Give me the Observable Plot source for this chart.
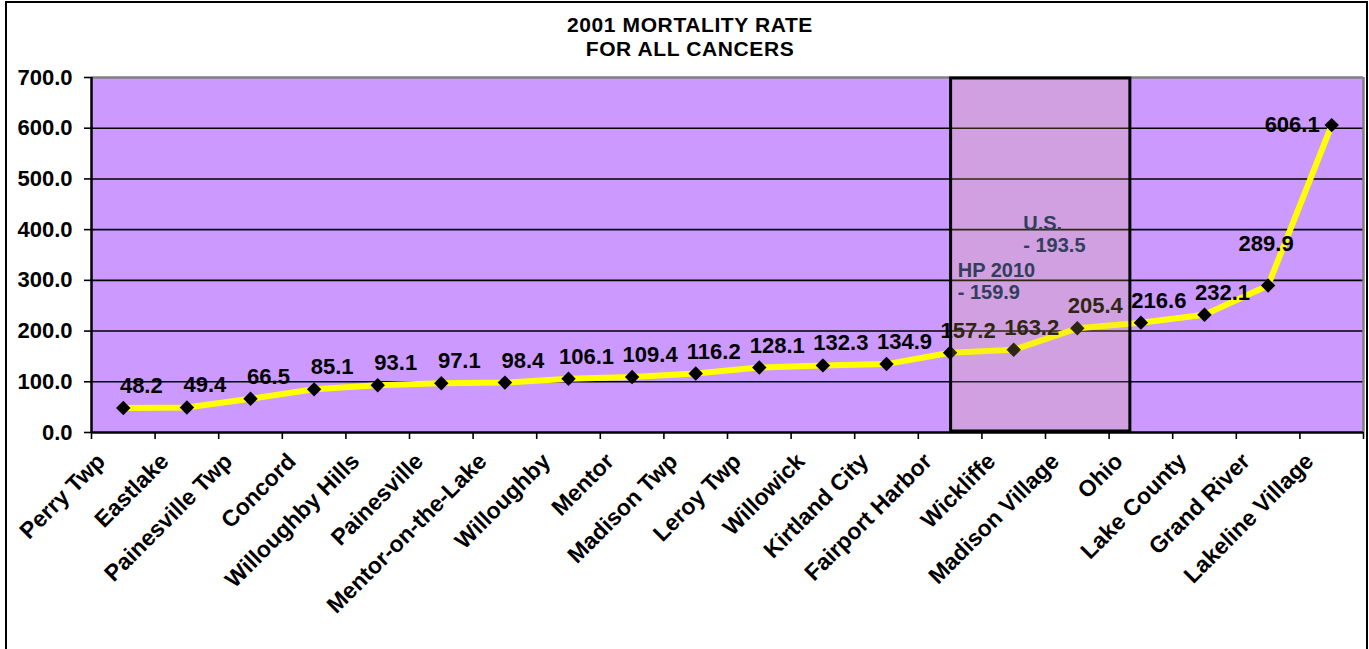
<!DOCTYPE html>
<html><head><meta charset="utf-8">
<script src="https://cdn.jsdelivr.net/npm/d3@7"></script>
<script src="https://cdn.jsdelivr.net/npm/@observablehq/plot@0.6"></script>
<style>
body{margin:0;background:#fff;font-family:"Liberation Sans",Arial,sans-serif;}
#wrap{position:relative;width:1369px;height:649px;overflow:hidden;background:#fff;}
#frame{position:absolute;left:5px;top:1px;width:1359px;height:700px;border:2px solid #000;pointer-events:none;}
#title{position:absolute;left:440px;width:500px;top:13px;text-align:center;font-weight:bold;font-size:21px;line-height:23.5px;letter-spacing:0.6px;color:#000;}
#chart{position:absolute;left:0;top:70px;}
</style></head>
<body><div id="wrap"><div id="title"></div><div id="chart"></div><div id="frame"></div></div>
<script>
const titleLines = ["2001 MORTALITY RATE", "FOR ALL CANCERS"];
const categories = ["Perry Twp","Eastlake","Painesville Twp","Concord","Willoughby Hills","Painesville","Mentor-on-the-Lake","Willoughby","Mentor","Madison Twp","Leroy Twp","Willowick","Kirtland City","Fairport Harbor","Wickliffe","Madison Village","Ohio","Lake County","Grand River","Lakeline Village"];
const rates = [48.2,49.4,66.5,85.1,93.1,97.1,98.4,106.1,109.4,116.2,128.1,132.3,134.9,157.2,163.2,205.4,216.6,232.1,289.9,606.1];
const yTicks = [0,100,200,300,400,500,600,700];
const benchmarkNames = ["U.S.", "HP 2010"];
const benchmarkValues = [193.5, 159.9];

document.getElementById("title").innerHTML = titleLines.join("<br>");

const idx = d3.range(categories.length);
const X = i => i + 0.5;
const Y = i => rates[i];
const fmt = v => v.toFixed(1);

const chart = Plot.plot({
  width: 1369, height: 579,
  marginTop: 7, marginBottom: 217, marginLeft: 91, marginRight: 6,
  x: {domain: [0, categories.length]},
  y: {domain: [0, 700]},
  style: {fontFamily: "'Liberation Sans', Arial, sans-serif", fontSize: "22px", fontWeight: "bold", color: "#000", background: "transparent", overflow: "visible"},
  marks: [
    Plot.frame({fill: "#CC99FF", stroke: null}),
    Plot.ruleY(yTicks.filter(d => d > 0 && d < 700), {stroke: "#000", strokeWidth: 1.6}),
    Plot.ruleY([700], {stroke: "#808080", strokeWidth: 2.5}),
    Plot.ruleX([categories.length], {stroke: "#808080", strokeWidth: 2.5}),
    Plot.line(idx, {x: X, y: Y, stroke: "#FFFF00", strokeWidth: 6}),
    Plot.dot(idx, {x: X, y: Y, symbol: "diamond2", r: 6.5, fill: "#000", stroke: null}),
    Plot.text(idx.slice(0, 18), {x: X, y: Y, text: i => fmt(rates[i]), dx: 18, dy: -22, fill: "#000"}),
    Plot.text([18], {x: X, y: Y, text: i => fmt(rates[i]), dx: -2, dy: -42, fill: "#000"}),
    Plot.text([19], {x: X, y: Y, text: i => fmt(rates[i]), textAnchor: "end", dx: -12, dy: 0, fill: "#000"}),
    Plot.rect([0], {x1: 13.5, x2: 16.35, y1: 0, y2: 700, fill: "rgb(224,188,100)", fillOpacity: 0.2}),
    Plot.rect([0], {x1: 13.5, x2: 16.35, y1: 0, y2: 700, fill: "none", stroke: "#000", strokeWidth: 3, inset: 1}),
    Plot.text([0, 1], {
      x: [14.65, 13.62], y: [392, 299],
      text: i => `${benchmarkNames[i]}\n- ${fmt(benchmarkValues[i])}`,
      textAnchor: "start", lineHeight: 1.1, fontSize: 20, fill: "#323E5C"
    }),
    Plot.ruleY([0], {stroke: "#000", strokeWidth: 2.5}),
    Plot.ruleX([0], {stroke: "#000", strokeWidth: 2.5}),
    Plot.axisY(yTicks, {tickSize: 7, tickPadding: 12, tickFormat: fmt, stroke: "#000", strokeWidth: 1.6, fill: "#000", label: null}),
    Plot.axisX(d3.range(categories.length + 1), {tickSize: 7, tickFormat: () => "", stroke: "#000", strokeWidth: 1.6, label: null}),
    Plot.axisX(idx.map(X), {tickSize: 0, tickPadding: 0, tickFormat: d => categories[Math.floor(d)], tickRotate: -45, textAnchor: "end", lineAnchor: "middle", fontSize: 23, dx: -22, dy: 25, fill: "#000", label: null})
  ]
});
document.getElementById("chart").appendChild(chart);
</script>
</body></html>
